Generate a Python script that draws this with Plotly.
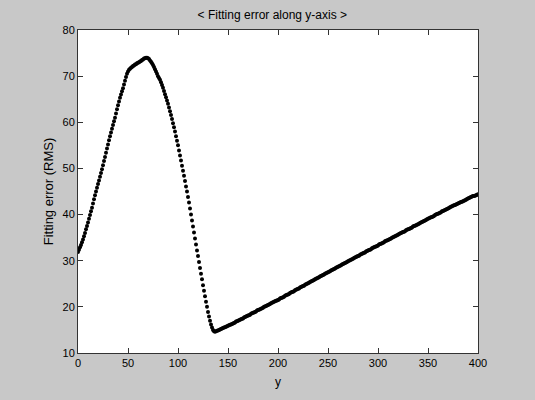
import plotly.graph_objects as go

# sample positions along y (one per unit)
y_pos = list(range(0, 401))

rms_error = [
    31.9, 32.4, 32.9, 33.4, 34.0, 34.6, 35.3, 36.0, 36.8, 37.5,
    38.3, 39.1, 39.9, 40.7, 41.5, 42.4, 43.3, 44.2, 45.0, 45.8,
    46.6, 47.4, 48.2, 49.0, 49.8, 50.7, 51.6, 52.5, 53.4, 54.3,
    55.2, 56.1, 57.0, 57.8, 58.6, 59.4, 60.2, 61.0, 61.9, 62.8,
    63.7, 64.5, 65.3, 66.0, 66.7, 67.4, 68.2, 69.0, 69.8, 70.5,
    71.0, 71.4, 71.6, 71.8, 72.0, 72.2, 72.3, 72.5, 72.6, 72.8,
    72.9, 73.0, 73.2, 73.3, 73.5, 73.6, 73.8, 73.9, 74.0, 74.0,
    73.9, 73.7, 73.4, 73.1, 72.8, 72.4, 72.0, 71.5, 71.0, 70.5,
    70.0, 69.6, 69.2, 68.7, 68.1, 67.5, 66.8, 66.1, 65.4, 64.7,
    64.0, 63.2, 62.4, 61.6, 60.7, 59.8, 58.9, 58.0, 57.0, 56.0,
    55.0, 53.9, 52.8, 51.7, 50.6, 49.5, 48.4, 47.3, 46.1, 45.0,
    43.8, 42.6, 41.3, 40.0, 38.7, 37.4, 36.1, 34.8, 33.5, 32.2,
    31.0, 29.7, 28.4, 27.2, 26.0, 24.7, 23.5, 22.3, 21.1, 20.0,
    18.9, 17.9, 17.0, 16.2, 15.5, 15.0, 14.7, 14.6, 14.7, 14.8,
    14.9, 15.0, 15.1, 15.2, 15.3, 15.4, 15.5, 15.6, 15.7, 15.8,
    15.9, 16.0, 16.1, 16.2, 16.3, 16.4, 16.5, 16.6, 16.8, 16.9,
    17.0, 17.1, 17.2, 17.3, 17.4, 17.5, 17.7, 17.8, 17.9, 18.0,
    18.1, 18.2, 18.3, 18.5, 18.6, 18.7, 18.8, 18.9, 19.0, 19.2,
    19.3, 19.4, 19.5, 19.6, 19.7, 19.8, 20.0, 20.1, 20.2, 20.3,
    20.4, 20.5, 20.6, 20.8, 20.9, 21.0, 21.1, 21.2, 21.3, 21.4,
    21.5, 21.6, 21.8, 21.9, 22.0, 22.1, 22.2, 22.4, 22.5, 22.6,
    22.7, 22.8, 23.0, 23.1, 23.2, 23.3, 23.4, 23.6, 23.7, 23.8,
    23.9, 24.0, 24.2, 24.3, 24.4, 24.5, 24.6, 24.8, 24.9, 25.0,
    25.1, 25.2, 25.4, 25.5, 25.6, 25.7, 25.8, 26.0, 26.1, 26.2,
    26.3, 26.4, 26.6, 26.7, 26.8, 26.9, 27.0, 27.2, 27.3, 27.4,
    27.5, 27.6, 27.7, 27.9, 28.0, 28.1, 28.2, 28.3, 28.5, 28.6,
    28.7, 28.8, 28.9, 29.0, 29.2, 29.3, 29.4, 29.5, 29.6, 29.7,
    29.9, 30.0, 30.1, 30.2, 30.3, 30.4, 30.6, 30.7, 30.8, 30.9,
    31.0, 31.1, 31.3, 31.4, 31.5, 31.6, 31.7, 31.8, 32.0, 32.1,
    32.2, 32.3, 32.4, 32.5, 32.7, 32.8, 32.9, 33.0, 33.1, 33.2,
    33.3, 33.5, 33.6, 33.7, 33.8, 33.9, 34.0, 34.2, 34.3, 34.4,
    34.5, 34.6, 34.7, 34.8, 35.0, 35.1, 35.2, 35.3, 35.4, 35.5,
    35.6, 35.8, 35.9, 36.0, 36.1, 36.2, 36.3, 36.4, 36.6, 36.7,
    36.8, 36.9, 37.0, 37.1, 37.2, 37.4, 37.5, 37.6, 37.7, 37.8,
    37.9, 38.0, 38.2, 38.3, 38.4, 38.5, 38.6, 38.7, 38.8, 39.0,
    39.1, 39.2, 39.3, 39.4, 39.5, 39.6, 39.7, 39.9, 40.0, 40.1,
    40.2, 40.3, 40.4, 40.5, 40.7, 40.8, 40.9, 41.0, 41.1, 41.2,
    41.3, 41.4, 41.6, 41.7, 41.8, 41.9, 42.0, 42.1, 42.2, 42.3,
    42.4, 42.5, 42.6, 42.7, 42.8, 42.9, 43.0, 43.1, 43.2, 43.4,
    43.5, 43.6, 43.7, 43.8, 43.9, 44.0, 44.0, 44.1, 44.2, 44.3,
    44.4,
]

x_ticks = [0, 50, 100, 150, 200, 250, 300, 350, 400]
y_ticks = [10, 20, 30, 40, 50, 60, 70, 80]

title_text = "< Fitting error along y-axis >"
x_label = "y"
y_label = "Fitting error (RMS)"

font_family = "Liberation Sans, Arial, sans-serif"
bg_gray = "#c8c8c8"

fig = go.Figure()
fig.add_trace(go.Scatter(
    x=y_pos, y=rms_error, mode="markers",
    marker=dict(color="black", size=4, line=dict(width=0)),
    showlegend=False, hoverinfo="skip",
))

axis_common = dict(
    showgrid=False, zeroline=False, showline=True, linecolor="#333333",
    linewidth=1, mirror="ticks", ticks="inside", ticklen=5,
    tickcolor="#333333", tickwidth=1,
    tickfont=dict(family=font_family, size=11, color="black"),
)

fig.update_layout(
    width=535, height=400,
    paper_bgcolor=bg_gray, plot_bgcolor="white",
    margin=dict(l=78, r=57, t=30, b=47),
    title=dict(text=title_text, x=0.509, xanchor="center", y=0.962, yanchor="middle",
               font=dict(family=font_family, size=12, color="black")),
    xaxis=dict(range=[0, 400], tickvals=x_ticks, **axis_common,
               title=dict(text=x_label, standoff=9,
                          font=dict(family=font_family, size=12, color="black"))),
    yaxis=dict(range=[10, 80], tickvals=y_ticks, **axis_common,
               title=dict(text=y_label, standoff=5,
                          font=dict(family=font_family, size=13, color="black"))),
)

fig.write_html(
    "out.html",
    config={"displayModeBar": False},
    post_script="document.body.style.margin='0';document.body.style.overflow='hidden';"
                "document.body.style.background='" + bg_gray + "';",
)
